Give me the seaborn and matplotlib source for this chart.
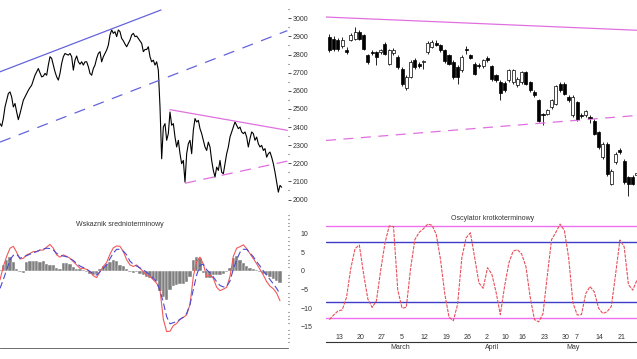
import numpy as np
import matplotlib
matplotlib.use('Agg')
import matplotlib.pyplot as plt
import matplotlib.transforms as mtrans
import seaborn as sns

# ---------------- data ----------------
# long-term index (left top), one value per step
long_close = [2419, 2404, 2447, 2511, 2548, 2585, 2594, 2566, 2511, 2530, 2483, 2441, 2474, 2511, 2548,
              2566, 2585, 2603, 2618, 2631, 2659, 2686, 2705, 2723, 2699, 2677, 2681, 2696, 2686, 2742,
              2788, 2779, 2742, 2705, 2677, 2659, 2696, 2751, 2788, 2806, 2801, 2797, 2806, 2788, 2714,
              2769, 2792, 2760, 2747, 2760, 2742, 2760, 2760, 2733, 2696, 2686, 2723, 2742, 2779, 2806,
              2816, 2760, 2788, 2806, 2825, 2852, 2908, 2936, 2917, 2926, 2899, 2936, 2926, 2889, 2876,
              2858, 2843, 2862, 2880, 2908, 2917, 2899, 2902, 2889, 2876, 2862, 2816, 2828, 2828, 2843,
              2788, 2760, 2769, 2742, 2760, 2714, 2511, 2225, 2400, 2419, 2327, 2364, 2483, 2410, 2419,
              2345, 2290, 2327, 2253, 2198, 2216, 2096, 2253, 2308, 2327, 2253, 2382, 2447, 2428, 2437,
              2391, 2364, 2327, 2290, 2271, 2317, 2290, 2216, 2161, 2124, 2179, 2161, 2216, 2151, 2142,
              2198, 2253, 2290, 2345, 2373, 2400, 2428, 2410, 2391, 2400, 2373, 2364, 2373, 2345, 2290,
              2336, 2373, 2364, 2327, 2345, 2308, 2290, 2299, 2271, 2281, 2234, 2253, 2262, 2234, 2198,
              2151, 2096, 2041, 2078, 2068]

# trend lines on the long chart: (x0, x1), (y0, y1)
blue_solid_x, blue_solid_y = [0, 96.6], [2705, 3046]
blue_dash_x, blue_dash_y = [0, 172.4], [2317, 2932]
pink_solid_x, pink_solid_y = [102, 172.4], [2496, 2382]
pink_dash_x, pink_dash_y = [111, 172.4], [2090, 2212]

# medium-term indicator (left bottom)
macd = [-2.4, 1.2, 3.9, 6.1, 6.6, 5.0, 3.2, 3.4, 4.3, 4.7, 5.2, 5.2, 5.6, 5.6, 6.4, 7.1, 6.1, 4.3, 3.7,
        4.3, 3.9, 3.4, 2.5, 1.6, 0.7, 0.7, 0.4, -0.2, -1.3, -1.8, -0.2, 1.2, 2.3, 4.5, 6.2, 6.7, 6.6,
        5.2, 3.0, 1.6, 1.2, 1.6, 0.7, -0.2, -1.1, -1.5, -2.4, -3.3, -5.1, -13.0, -16.3, -16.2, -14.7,
        -14.1, -13.0, -12.5, -11.8, -9.0, -1.5, 2.5, 3.7, 1.8, -1.5, -1.1, -2.0, -4.4, -5.3, -4.9,
        -4.4, -1.5, 3.9, 6.1, 6.5, 7.0, 6.0, 4.6, 3.3, 1.9, 0.4, -1.1, -2.9, -4.1, -4.8, -6.0, -8.0]
signal = [-4.7, -2.3, 0.3, 3.0, 4.2, 4.5, 3.4, 3.8, 4.1, 4.5, 4.8, 5.2, 5.6, 5.9, 6.1, 6.0, 5.6, 4.7,
          4.2, 4.0, 3.8, 3.3, 2.8, 2.0, 1.3, 0.9, 0.5, -0.2, -0.8, -1.1, -0.2, 0.7, 1.6, 3.3, 4.8, 5.8,
          5.8, 5.3, 4.3, 2.6, 1.8, 1.3, 0.8, 0.3, -0.4, -1.1, -2.0, -2.9, -5.3, -8.5, -12.3, -14.2,
          -13.9, -13.6, -13.0, -12.4, -11.4, -9.0, -5.0, -1.1, 1.5, 1.8, 0.3, -0.6, -1.6, -2.9, -3.9,
          -4.3, -4.2, -2.7, 0.5, 3.0, 5.0, 5.8, 5.8, 4.8, 3.8, 2.5, 1.3, 0.0, -1.1, -2.3, -3.5, -4.7, -6.2]
hist = [0.2, 1.5, 3.0, 3.8, 2.5, 0.5, -0.4, -0.5, 2.5, 2.6, 2.7, 2.7, 2.5, 2.6, 1.8, 1.5, 1.6, 0.8,
        0.4, 2.0, 2.2, 1.8, 1.0, 0.6, 0.4, 0.3, -0.3, -0.7, -1.0, -0.8, 0.6, 1.2, 1.8, 2.5, 2.8, 2.6,
        1.5, 1.2, 0.5, -0.3, -0.5, -0.4, -0.8, -1.2, -1.6, -2.0, -2.2, -2.6, -5.5, -7.0, -7.8, -5.0,
        -4.0, -3.8, -3.5, -3.5, -3.0, -1.5, 3.0, 3.8, 3.5, -0.5, -1.8, -2.0, -1.2, -1.0, -1.2, -0.8,
        -0.3, 0.8, 3.5, 4.0, 3.0, 2.0, 1.2, 0.8, 0.4, 0.2, -0.3, -0.8, -1.2, -1.6, -2.2, -2.8, -3.2]
macd_ticks = [-15, -10, -5, 0, 5, 10]

# daily candles (right top), trading day index -1 .. 71
c_open = [2897, 2888, 2878, 2845, 2823, 2882, 2888, 2925, 2906, 2796, 2815, 2814, 2816, 2860, 2750,
          2809, 2786, 2722, 2617, 2676, 2768, 2750, 2757, 2814, 2842, 2864, 2851, 2823, 2796, 2759,
          2731, 2713, 2832, 2796, 2750, 2744, 2735, 2783, 2735, 2685, 2648, 2643, 2657, 2648, 2630,
          2648, 2703, 2648, 2593, 2547, 2473, 2473, 2510, 2528, 2639, 2639, 2565, 2464, 2538, 2468,
          2464, 2458, 2436, 2372, 2234, 2307, 2087, 2206, 2271, 2215, 2123, 2123, 2138]
c_close = [2827, 2832, 2832, 2882, 2812, 2910, 2925, 2888, 2832, 2759, 2809, 2786, 2823, 2805, 2823,
           2823, 2731, 2639, 2676, 2759, 2731, 2735, 2764, 2864, 2869, 2853, 2823, 2764, 2750, 2676,
           2676, 2786, 2823, 2783, 2694, 2737, 2768, 2768, 2665, 2657, 2588, 2602, 2713, 2713, 2667,
           2703, 2639, 2602, 2575, 2436, 2464, 2492, 2547, 2624, 2602, 2584, 2547, 2565, 2446, 2460,
           2486, 2451, 2363, 2289, 2307, 2142, 2160, 2252, 2260, 2096, 2087, 2087, 2145]
c_high = [2912, 2902, 2893, 2897, 2842, 2920, 2952, 2935, 2915, 2805, 2825, 2822, 2830, 2872, 2830,
          2835, 2795, 2730, 2685, 2770, 2780, 2758, 2772, 2875, 2880, 2878, 2860, 2830, 2805, 2768,
          2740, 2795, 2845, 2805, 2760, 2755, 2775, 2790, 2742, 2695, 2657, 2652, 2722, 2722, 2675,
          2712, 2712, 2655, 2602, 2555, 2480, 2500, 2555, 2632, 2650, 2648, 2575, 2575, 2545, 2480,
          2495, 2465, 2445, 2380, 2315, 2315, 2170, 2260, 2285, 2225, 2130, 2135, 2155]
c_low = [2812, 2817, 2817, 2835, 2805, 2875, 2880, 2880, 2825, 2750, 2800, 2740, 2805, 2795, 2740,
         2800, 2722, 2625, 2606, 2668, 2722, 2725, 2720, 2805, 2835, 2845, 2815, 2755, 2740, 2665,
         2639, 2705, 2805, 2775, 2685, 2725, 2725, 2760, 2655, 2648, 2551, 2595, 2650, 2640, 2620,
         2640, 2630, 2595, 2565, 2428, 2409, 2465, 2500, 2520, 2595, 2575, 2538, 2455, 2436, 2450,
         2455, 2420, 2355, 2280, 2225, 2130, 2078, 2198, 2250, 2088, 2022, 2080, 2130]
candle_top_x, candle_top_y = [-1.8, 71], [3007, 2934]
candle_bot_x, candle_bot_y = [-1.8, 71], [2326, 2464]

# short-term oscillator (right bottom)
osc = [-13.2, -11.9, -10.8, -10.5, -7.0, 1.0, 6.5, 7.5, -0.5, -7.5, -9.8, -8.0, 0.5, 8.0, 12.8, 12.6,
       -5.0, -10.0, -9.8, 1.0, 9.0, 11.0, 12.0, 13.3, 13.0, 10.5, 3.5, -6.0, -12.5, -13.5, -9.0, 4.0,
       9.5, 10.9, 4.0, -3.0, -4.5, 1.2, -0.5, -5.5, -11.8, -4.0, 2.5, 5.8, 6.2, 5.0, 1.5, -7.0, -13.2,
       -13.8, -11.5, -1.0, 9.0, 11.0, 13.3, 11.5, 4.0, -8.5, -11.9, -11.8, -6.0, -4.0, -5.5, -10.0,
       -11.5, -11.0, -9.5, -0.5, 8.9, 7.0, -3.5, -5.0, -2.2]
osc_outer = [12.8, -12.8]
osc_inner = [8.3, -8.3]

week_pos = [0, 5, 10, 15, 20, 25, 30, 35, 39, 43, 48, 53, 56, 61, 66, 71]
week_labels = ['13', '20', '27', '5', '12', '19', '26', '2', '10', '16', '23', '30', '7', '14', '21', '']
month_pos = [13, 35, 54]
month_labels = ['March', 'April', 'May']

price_ticks = list(range(2000, 3001, 100))

# ---------------- figure ----------------
sns.set_theme(style='white')
plt.rcParams['font.family'] = ['Liberation Sans', 'DejaVu Sans']

W, H = 637, 359
fig = plt.figure(figsize=(W / 100, H / 100), dpi=100)
fig.patch.set_facecolor('white')


def add_ax(x0, y0, x1, y1):
    a = fig.add_axes([x0 / W, 1 - y1 / H, (x1 - x0) / W, (y1 - y0) / H])
    a.set_facecolor('none')
    for s in a.spines.values():
        s.set_visible(False)
    return a


TXT = '#333333'
BLUE_T = '#6464dc'
PINK_T = '#e070e0'

# ---- left top: long-term line ----
ax1 = add_ax(0, 0, 288, 205)
ax1.set_xlim(0, 172.8)
ax1.set_ylim(1970, 3101)
sns.lineplot(x=np.arange(len(long_close)), y=long_close, ax=ax1, color='black', lw=0.8)
ax1.plot(blue_solid_x, blue_solid_y, color=BLUE_T, lw=0.9)
ax1.plot(blue_dash_x, blue_dash_y, color=BLUE_T, lw=0.9, dashes=(9, 7))
ax1.plot(pink_solid_x, pink_solid_y, color=PINK_T, lw=0.9)
ax1.plot(pink_dash_x, pink_dash_y, color=PINK_T, lw=0.9, dashes=(9, 6))
ax1.set_xticks([])
ax1.yaxis.tick_right()
ax1.set_yticks(price_ticks)
ax1.set_yticks(np.arange(2050, 3051, 100), minor=True)
ax1.tick_params(axis='y', which='major', direction='out', length=2.2, width=0.6,
                pad=1, labelsize=5, colors=TXT)
ax1.tick_params(axis='y', which='minor', direction='out', length=0.8, width=0.8, colors='#555555')
ax1.set_ylabel('')

# ---- right top: candles ----
ax2 = add_ax(326, 0, 637, 205)
ax2.set_xlim(-1.8, 71)
ax2.set_ylim(1970, 3101)
cdx = np.arange(-1, 72)
o = np.array(c_open, dtype=float)
c = np.array(c_close, dtype=float)
ax2.vlines(cdx, c_low, c_high, color='black', lw=0.6, zorder=2)
faces = ['white' if cc >= oo else 'black' for oo, cc in zip(o, c)]
ax2.bar(cdx, c - o, bottom=o, width=0.72, color=faces, edgecolor='black', linewidth=0.5, zorder=3)
ax2.plot(candle_top_x, candle_top_y, color=PINK_T, lw=0.9)
ax2.plot(candle_bot_x, candle_bot_y, color=PINK_T, lw=0.9, dashes=(8, 6))
ax2.set_xticks([])
ax2.set_yticks([])

# ---- left bottom: medium-term indicator ----
ax3 = add_ax(0, 205, 288, 348)
ax3.set_xlim(0, 172.8)
ax3.set_ylim(-20.7, 17.7)
mx = np.arange(0, 2 * len(macd), 2)
ax3.bar(mx, hist, width=2.0, color='#7f7f7f', edgecolor='white', linewidth=0.3, zorder=1)
sns.lineplot(x=mx, y=signal, ax=ax3, color='#4a4ad2', lw=0.8, linestyle=(0, (6, 3)), zorder=3)
sns.lineplot(x=mx, y=macd, ax=ax3, color='#f05a5a', lw=0.8, zorder=2)
ax3.text(0.417, 0.867, 'Wskaznik srednioterminowy', transform=ax3.transAxes,
         ha='center', va='center', fontsize=5, color=TXT)
ax3.yaxis.tick_right()
ax3.set_yticks(macd_ticks)
ax3.set_yticks(np.arange(-19, 16), minor=True)
ax3.tick_params(axis='y', which='major', length=0, pad=9, labelsize=5, colors=TXT)
ax3.tick_params(axis='y', which='minor', direction='out', length=0.8, width=0.8, colors='#555555')
ax3.spines['bottom'].set_visible(True)
ax3.spines['bottom'].set_color('#555555')
ax3.spines['bottom'].set_linewidth(0.6)
ax3.set_xticks(np.arange(5, 172, 7.6))
ax3.set_xticks(np.arange(5, 172, 1.9), minor=True)
ax3.tick_params(axis='x', which='major', direction='inout', length=4.5, width=0.6,
                colors='#444444', labelbottom=False)
ax3.tick_params(axis='x', which='minor', direction='in', length=1.2, width=0.5, colors='#666666')
ax3.set_ylabel('')

# ---- right bottom: oscillator ----
ax4 = add_ax(326, 205, 637, 342)
ax4.set_xlim(-1.8, 71)
ax4.set_ylim(-19.4, 18.6)
for lv in osc_outer:
    ax4.axhline(lv, color='#f06ef0', lw=1.0)
for lv in osc_inner:
    ax4.axhline(lv, color='#3c3cc8', lw=1.0)
sns.lineplot(x=np.arange(-1, 72), y=osc, ax=ax4, color='#e8505c', lw=0.8, linestyle=(0, (3, 1)))
ax4.text(0.537, 0.905, 'Oscylator krotkoterminowy', transform=ax4.transAxes,
         ha='center', va='center', fontsize=5, color=TXT)
ax4.set_yticks([])
ax4.set_ylabel('')
ax4.spines['bottom'].set_visible(True)
ax4.spines['bottom'].set_color('#333333')
ax4.spines['bottom'].set_linewidth(0.8)
ax4.xaxis.remove_overlapping_locs = False
ax4.set_xticks(week_pos, labels=week_labels)
ax4.set_xticks(month_pos, labels=month_labels, minor=True)
ax4.tick_params(axis='x', which='major', direction='in', length=6.5, width=0.6,
                pad=-5.9, labelsize=5, colors='#333333')
ax4.tick_params(axis='x', which='minor', direction='inout', length=13.7, width=0.6,
                pad=-5.4, labelsize=5, colors='#333333')
off = mtrans.ScaledTranslation(1.5 / 100, 0, fig.dpi_scale_trans)
for lab in ax4.get_xticklabels() + ax4.get_xticklabels(minor=True):
    lab.set_horizontalalignment('left')
    lab.set_transform(lab.get_transform() + off)

fig.savefig('out.png', dpi=100, facecolor='white')
